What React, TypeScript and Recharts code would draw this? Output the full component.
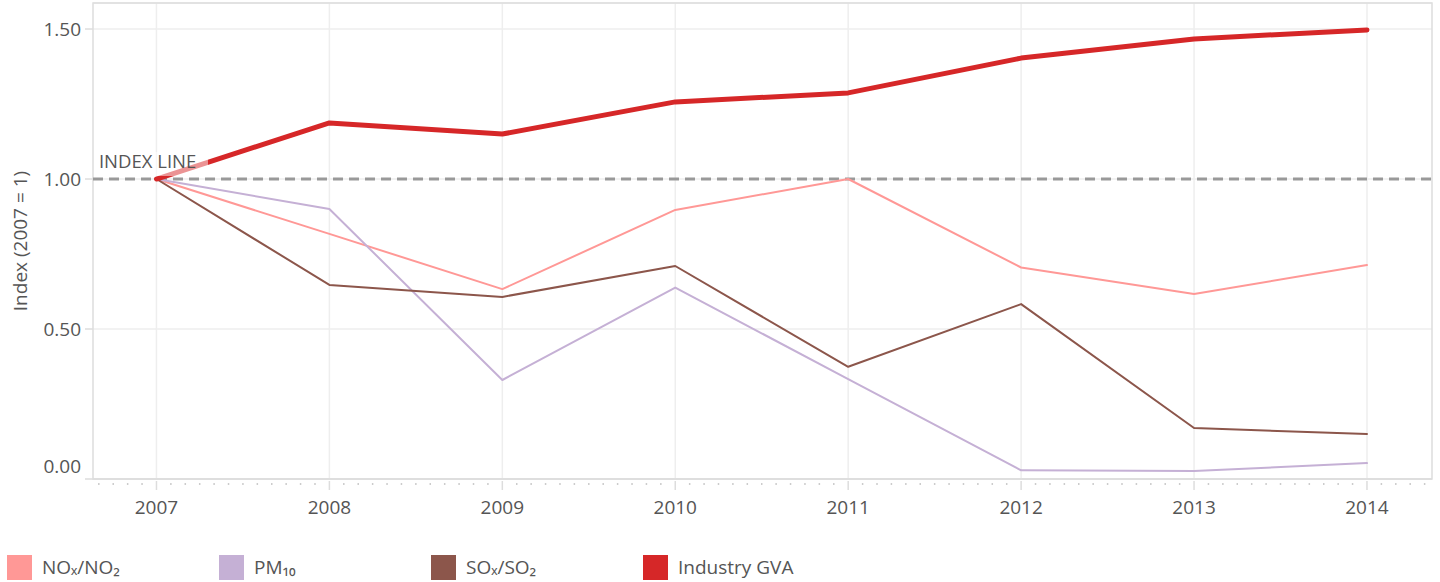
import React from 'react';
import {
  LineChart,
  Line,
  XAxis,
  YAxis,
  CartesianGrid,
  ReferenceLine,
  ReferenceArea,
  Legend,
} from 'recharts';

const years = [2007, 2008, 2009, 2010, 2011, 2012, 2013, 2014];
const noxValues = [1.0, 0.817, 0.633, 0.897, 1.0, 0.705, 0.617, 0.713];
const pm10Values = [1.0, 0.9, 0.33, 0.638, 0.333, 0.029, 0.027, 0.053];
const soxValues = [1.0, 0.647, 0.607, 0.71, 0.374, 0.583, 0.17, 0.15];
const gvaValues = [1.0, 1.187, 1.15, 1.257, 1.287, 1.403, 1.467, 1.497];

const yTicks = [0, 0.5, 1.0, 1.5];
const xDomain: [number, number] = [2006.633, 2014.376];
const yDomain: [number, number] = [0, 1.5867];

// monthly minor ticks between domain edges, majors on the years
const monthTicks: number[] = [];
for (let m = -4; m <= 7 * 12 + 4; m++) monthTicks.push(2007 + m / 12);

const series = [
  { key: 'nox', name: 'NOₓ/NO₂', color: '#ff9896', width: 2 },
  { key: 'pm10', name: 'PM₁₀', color: '#c5b0d5', width: 2 },
  { key: 'sox', name: 'SOₓ/SO₂', color: '#8c564b', width: 2 },
  { key: 'gva', name: 'Industry GVA', color: '#d62728', width: 5 },
];

const data = years.map((year, i) => ({
  year,
  nox: noxValues[i],
  pm10: pm10Values[i],
  sox: soxValues[i],
  gva: gvaValues[i],
}));

const FONT = '"Open Sans", sans-serif';
const TEXT = '#555';

function XTick(props: any) {
  const { x, y, payload } = props;
  const v = payload.value as number;
  const isYear = Math.abs(v - Math.round(v)) < 1e-6;
  return (
    <g>
      {isYear ? (
        <>
          <line x1={x} x2={x} y1={y} y2={y + 9} stroke="#ddd" strokeWidth={1.5} />
          <text x={x} y={y + 33} textAnchor="middle" fill={TEXT} fontSize={19} fontFamily={FONT}>
            {Math.round(v)}
          </text>
        </>
      ) : (
        <line x1={x} x2={x} y1={y + 2} y2={y + 4} stroke="#ccc" strokeWidth={1.5} />
      )}
    </g>
  );
}

function YTick(props: any) {
  const { x, y, payload } = props;
  const v = payload.value as number;
  const dy = v === 0 ? -13 : 0;
  return (
    <text x={x} y={y + dy} dy={7} textAnchor="end" fill={TEXT} fontSize={19} fontFamily={FONT}>
      {v.toFixed(2)}
    </text>
  );
}

function IndexLabel(props: any) {
  const { viewBox } = props;
  return (
    <text x={viewBox.x + 3} y={viewBox.y + viewBox.height - 8} fill={TEXT} fontSize={18.5} fontFamily={FONT}>
      INDEX LINE
    </text>
  );
}

function LegendContent() {
  return (
    <div style={{ position: 'relative', height: 30, width: 1440 }}>
      {series.map((s, i) => (
        <div
          key={s.key}
          style={{
            position: 'absolute',
            left: 7 + i * 212,
            top: 0,
            display: 'flex',
            alignItems: 'center',
            fontFamily: FONT,
            fontSize: 19,
            color: TEXT,
          }}
        >
          <span style={{ display: 'inline-block', width: 25, height: 25, background: s.color, marginRight: 10 }} />
          <span>{s.name}</span>
        </div>
      ))}
    </div>
  );
}

const yearGrid = ({ offset }: any) =>
  years.map((y) => offset.left + ((y - xDomain[0]) / (xDomain[1] - xDomain[0])) * offset.width);

export default function App() {
  return (
    <div style={{ position: 'absolute', left: 0, top: 0, width: 1440, height: 582, background: '#fff' }}>
      <LineChart width={1440} height={582} data={data} margin={{ top: 3, right: 8, left: 0, bottom: 0 }}>
        <CartesianGrid stroke="#eee" strokeWidth={1.5} verticalCoordinatesGenerator={yearGrid} />
        <ReferenceArea
          x1={xDomain[0]}
          x2={xDomain[1]}
          y1={yDomain[0]}
          y2={yDomain[1]}
          fill="none"
          stroke="#ddd"
          strokeWidth={1.5}
        />
        <XAxis
          dataKey="year"
          type="number"
          domain={xDomain}
          ticks={monthTicks}
          interval={0}
          allowDataOverflow
          tick={<XTick />}
          tickLine={false}
          tickSize={0}
          height={73}
          stroke="#ddd"
          strokeWidth={1.5}
        />
        <YAxis
          type="number"
          domain={yDomain}
          ticks={yTicks}
          allowDataOverflow
          width={93}
          axisLine={false}
          tickLine={{ stroke: '#ddd', strokeWidth: 1.5 }}
          tickSize={8}
          tickMargin={4}
          tick={<YTick />}
          label={{
            value: 'Index (2007 = 1)',
            angle: -90,
            position: 'insideLeft',
            offset: 20,
            style: { textAnchor: 'middle', fill: TEXT, fontSize: 19, fontFamily: FONT },
          }}
        />
        <ReferenceLine y={1} stroke="#999" strokeWidth={3} strokeDasharray="10 6" />
        {series.map((s) => (
          <Line
            key={s.key}
            type="linear"
            dataKey={s.key}
            name={s.name}
            stroke={s.color}
            strokeWidth={s.width}
            strokeLinecap="round"
            strokeLinejoin="round"
            dot={false}
            activeDot={false}
            isAnimationActive={false}
          />
        ))}
        <ReferenceArea
          x1={2006.65}
          x2={2007.298}
          y1={1.01}
          y2={1.09}
          fill="#fff"
          fillOpacity={0.5}
          stroke="none"
          zIndex={1000}
          label={<IndexLabel />}
        />
        <Legend
          verticalAlign="bottom"
          content={<LegendContent />}
          wrapperStyle={{ position: 'absolute', left: 0, top: 554, width: 1440, height: 30 }}
        />
      </LineChart>
    </div>
  );
}
